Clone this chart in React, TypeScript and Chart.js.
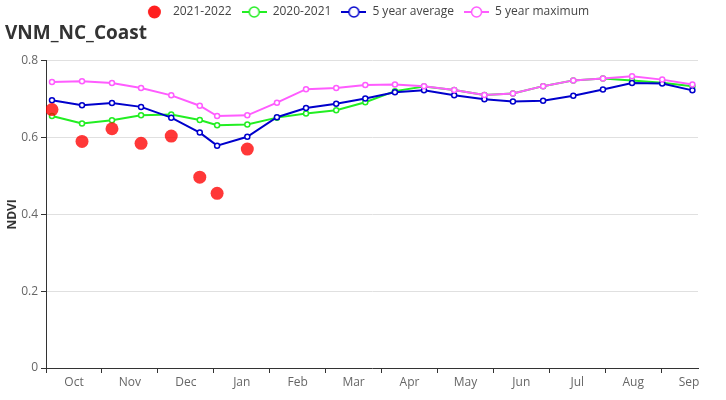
import React, { useEffect, useRef } from "react";
import { Chart, registerables } from "chart.js";

Chart.register(...registerables);

const FONT = "'Open Sans', 'Noto Sans', sans-serif";

// ---- data ----
const chartTitle = "VNM_NC_Coast";
const yTitle = "NDVI";
const monthLabels = ["Oct", "Nov", "Dec", "Jan", "Feb", "Mar", "Apr", "May", "Jun", "Jul", "Aug", "Sep"];
// position of each composite along the season, in months counted from 1 October
const compositePos = [
  0.107, 0.644, 1.18, 1.7, 2.24, 2.75, 3.06, 3.6, 4.13, 4.65, 5.19, 5.71,
  6.24, 6.76, 7.3, 7.84, 8.35, 8.89, 9.43, 9.96, 10.48, 11.02, 11.56,
];
const axisEndMonths = 11.66;
const yTicks = [0, 0.2, 0.4, 0.6, 0.8];

const seriesNames = ["2021-2022", "2020-2021", "5 year average", "5 year maximum"];
const ndvi2021_2022 = [0.673, 0.59, 0.623, 0.585, 0.604, 0.497, 0.455, 0.57];
const ndvi2020_2021 = [
  0.656, 0.637, 0.645, 0.658, 0.66, 0.646, 0.632, 0.634, 0.652, 0.663, 0.671, 0.692,
  0.721, 0.733, 0.724, 0.711, 0.715, 0.734, 0.749, 0.754, 0.749, 0.743, 0.734,
];
const ndvi5yrAvg = [
  0.697, 0.684, 0.69, 0.68, 0.652, 0.613, 0.579, 0.602, 0.653, 0.677, 0.688, 0.702,
  0.718, 0.723, 0.71, 0.7, 0.694, 0.696, 0.709, 0.725, 0.742, 0.741, 0.723,
];
const ndvi5yrMax = [
  0.745, 0.747, 0.742, 0.729, 0.71, 0.683, 0.656, 0.658, 0.691, 0.726, 0.729, 0.737,
  0.738, 0.734, 0.724, 0.711, 0.715, 0.734, 0.749, 0.754, 0.76, 0.751, 0.738,
];

const RED = "rgba(255,0,0,0.78)";
const GREEN = "#22ee22";
const BLUE = "#0000cc";
const PINK = "#ff5cff";

function toPoints(values: number[]) {
  return values.map((v, i) => ({ x: compositePos[i], y: v }));
}

function lineIcon(color: string) {
  const c = document.createElement("canvas");
  c.width = 25;
  c.height = 14;
  const ctx = c.getContext("2d")!;
  ctx.strokeStyle = color;
  ctx.lineWidth = 2;
  ctx.beginPath();
  ctx.moveTo(0, 7);
  ctx.lineTo(25, 7);
  ctx.stroke();
  ctx.beginPath();
  ctx.arc(12.5, 7, 5, 0, Math.PI * 2);
  ctx.fillStyle = "#fff";
  ctx.fill();
  ctx.lineWidth = 1.5;
  ctx.stroke();
  return c;
}

function dotIcon(color: string) {
  const c = document.createElement("canvas");
  c.width = 25;
  c.height = 14;
  const ctx = c.getContext("2d")!;
  ctx.fillStyle = color;
  ctx.beginPath();
  ctx.arc(12.5, 7, 6.5, 0, Math.PI * 2);
  ctx.fill();
  return c;
}

export default function App() {
  const ref = useRef<HTMLCanvasElement | null>(null);

  useEffect(() => {
    if (!ref.current) return;
    const icons = [dotIcon("#ff1f1f"), lineIcon(GREEN), lineIcon(BLUE), lineIcon(PINK)];

    const lineStyle = (color: string) => ({
      borderColor: color,
      backgroundColor: color,
      borderWidth: 2,
      pointRadius: 2.5,
      pointBorderWidth: 1.5,
      pointBackgroundColor: "#fff",
      pointBorderColor: color,
      tension: 0,
      fill: false,
      xAxisID: "x",
      yAxisID: "y",
    });

    const chart = new Chart(ref.current, {
      type: "line",
      data: {
        datasets: [
          {
            type: "scatter",
            label: seriesNames[0],
            data: toPoints(ndvi2021_2022),
            backgroundColor: RED,
            borderColor: "rgba(0,0,0,0)",
            pointRadius: 6.5,
            pointBorderWidth: 0,
            showLine: false,
            order: 0,
            xAxisID: "x",
            yAxisID: "y",
          } as any,
          { label: seriesNames[1], data: toPoints(ndvi2020_2021), ...lineStyle(GREEN), order: 3 },
          { label: seriesNames[2], data: toPoints(ndvi5yrAvg), ...lineStyle(BLUE), order: 2 },
          { label: seriesNames[3], data: toPoints(ndvi5yrMax), ...lineStyle(PINK), order: 1 },
        ],
      },
      options: {
        animation: false,
        responsive: true,
        maintainAspectRatio: false,
        layout: { padding: { top: -4, left: 5, right: 0, bottom: 0 } },
        font: { family: FONT },
        scales: {
          x: {
            type: "linear",
            position: "bottom",
            min: 0,
            max: axisEndMonths,
            afterBuildTicks: (s: any) => {
              s.ticks = monthLabels.map((_, i) => ({ value: i }));
            },
            afterFit: (s: any) => {
              s.height = 32;
            },
            grid: {
              display: true,
              drawOnChartArea: false,
              drawTicks: true,
              tickLength: 5,
              tickColor: "#333",
            },
            border: { display: true, color: "#333", width: 1 },
            ticks: {
              autoSkip: false,
              maxRotation: 0,
              minRotation: 0,
              padding: 2,
              labelOffset: 28,
              color: "#666",
              font: { family: FONT, size: 12 },
              callback: (v: any) => monthLabels[Math.round(Number(v))] ?? "",
            },
          },
          y: {
            type: "linear",
            position: "left",
            min: 0,
            max: 0.8,
            afterBuildTicks: (s: any) => {
              s.ticks = yTicks.map((v) => ({ value: v }));
            },
            afterFit: (s: any) => {
              s.width = 41;
            },
            grid: {
              color: (ctx: any) => (ctx.tick && ctx.tick.value === 0 ? "rgba(0,0,0,0)" : "#e0e0e0"),
              tickColor: "#333",
              tickLength: 5,
            },
            border: { display: true, color: "#333", width: 1 },
            ticks: {
              padding: 3,
              color: "#666",
              font: { family: FONT, size: 12 },
              callback: (v: any) => String(Math.round(Number(v) * 10) / 10),
            },
            title: {
              display: true,
              text: yTitle,
              color: "#333",
              font: { family: FONT, size: 12, weight: "bold" },
              padding: { top: 0, bottom: 0 },
            },
          },
          yr: {
            type: "linear",
            position: "right",
            display: true,
            grid: { display: false, drawTicks: false },
            border: { display: false },
            ticks: { display: false },
            afterFit: (s: any) => {
              s.width = 28;
            },
          },
        },
        plugins: {
          tooltip: { enabled: false },
          legend: {
            display: true,
            position: "top",
            align: "center",
            weight: 3000,
            maxHeight: 26,
            labels: {
              usePointStyle: true,
              pointStyleWidth: 25,
              padding: 10,
              color: "#444",
              font: { family: FONT, size: 12 },
              generateLabels: (c: any) =>
                c.data.datasets.map((d: any, i: number) => ({
                  text: d.label,
                  fillStyle: "rgba(0,0,0,0)",
                  strokeStyle: "rgba(0,0,0,0)",
                  lineWidth: 0,
                  pointStyle: icons[i],
                  hidden: false,
                  datasetIndex: i,
                  fontColor: "#444",
                })),
            },
          } as any,
          title: {
            display: true,
            text: chartTitle,
            align: "start",
            color: "#333",
            font: { family: FONT, size: 19, weight: "bold" },
            padding: { top: 0, bottom: 16 },
          },
        },
      },
    });
    return () => chart.destroy();
  }, []);

  return (
    <div style={{ position: "absolute", left: 0, top: 0, width: 726, height: 400 }}>
      <canvas ref={ref} />
    </div>
  );
}
